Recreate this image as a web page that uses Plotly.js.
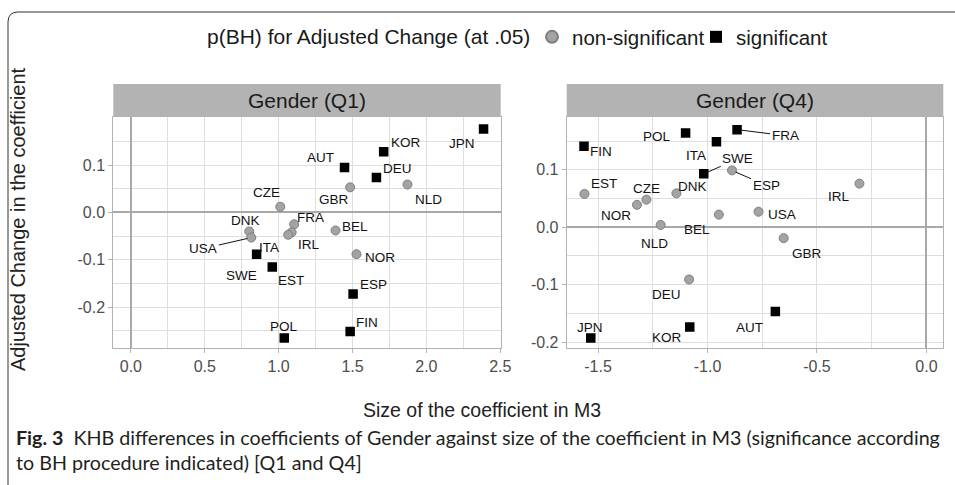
<!DOCTYPE html>
<html><head><meta charset="utf-8">
<script src="https://cdn.plot.ly/plotly-3.0.1.min.js"></script>
<style>html,body{margin:0;padding:0;background:#fff}#chart{width:955px;height:485px}</style>
</head><body><div id="chart"></div>
<script>
// ---- Data: Gender (Q1) ----
const countriesQ1 = ["JPN","KOR","AUT","DEU","NLD","GBR","CZE","FRA","BEL","IRL","ITA","DNK","USA","SWE","EST","NOR","ESP","FIN","POL"];
const sizeQ1   = [2.387,1.711,1.446,1.662,1.872,1.484,1.011,1.105,1.385,1.088,1.065,0.801,0.815,0.851,0.957,1.527,1.504,1.484,1.038];
const changeQ1 = [0.176,0.128,0.095,0.074,0.059,0.053,0.012,-0.025,-0.038,-0.042,-0.047,-0.040,-0.053,-0.088,-0.115,-0.088,-0.172,-0.251,-0.265];
const sigQ1    = [1,1,1,1,0,0,0,0,0,0,0,0,0,1,1,0,1,1,1];

// ---- Data: Gender (Q4) ----
const countriesQ4 = ["FIN","POL","FRA","ITA","SWE","ESP","EST","CZE","NOR","DNK","BEL","NLD","USA","IRL","GBR","DEU","AUT","KOR","JPN"];
const sizeQ4   = [-1.564,-1.100,-0.865,-0.959,-1.017,-0.888,-1.562,-1.279,-1.322,-1.142,-0.948,-1.214,-0.767,-0.306,-0.652,-1.084,-0.690,-1.081,-1.533];
const changeQ4 = [0.141,0.164,0.170,0.149,0.093,0.099,0.058,0.048,0.039,0.059,0.022,0.004,0.027,0.076,-0.019,-0.091,-0.147,-0.174,-0.193];
const sigQ4    = [1,1,1,1,1,0,0,0,0,0,0,0,0,0,0,0,1,1,1];

// ---- Tick labels ----
const xTickValsQ1 = [0,0.5,1,1.5,2,2.5];
const xTickTextQ1 = ["0.0","0.5","1.0","1.5","2.0","2.5"];
const yTickValsQ1 = [-0.2,-0.1,0,0.1];
const yTickTextQ1 = ["-0.2","-0.1","0.0","0.1"];
const xTickValsQ4 = [-1.5,-1.0,-0.5,0];
const xTickTextQ4 = ["-1.5","-1.0","-0.5","0.0"];
const yTickValsQ4 = [-0.2,-0.1,0,0.1];
const yTickTextQ4 = ["-0.2","-0.1","0.0","0.1"];

const panelTitles = ["Gender (Q1)","Gender (Q4)"];
const legendTitle = "p(BH) for Adjusted Change (at .05)";
const groupNames = ["non-significant","significant"];

// ---- Label placement (pixel offsets of the label from its point; third entry = leader line) ----
const labelPosQ1 = {JPN:[-22,14],KOR:[22,-9],AUT:[-24,-10],DEU:[21,-9],NLD:[21,15],GBR:[-16,12],CZE:[-14,-14],
  FRA:[16,-7],BEL:[19,-4],IRL:[17,12],ITA:[-19,13],DNK:[-4,-11],USA:[-48,11,1],SWE:[-15,21],EST:[19,14],
  NOR:[23,3],ESP:[20,-9],FIN:[17,-9],POL:[0,-12]};
const labelPosQ4 = {FIN:[17,5],POL:[-29,3],FRA:[48,6,1],ITA:[-20,14],SWE:[34,-15,1],ESP:[34,15,1],EST:[20,-10],
  CZE:[0,-11],NOR:[-21,11],DNK:[16,-7],BEL:[-22,15],NLD:[-6,19],USA:[23,3],IRL:[-20,13],GBR:[23,15],
  DEU:[-23,15],AUT:[-26,16],KOR:[-23,10],JPN:[-1,-11]};

const W = 955, H = 485;
const px = v => v / W, py = v => 1 - v / H;
const FONT = "'Liberation Sans', Arimo, Arial, sans-serif";
const CAPFONT = "Lato, sans-serif";

const markerStyles = [
  {symbol:"circle", size:9, color:"#A3A3A3", line:{color:"#7F7F7F", width:1}},
  {symbol:"square", size:9.5, color:"#000000", line:{width:0}}
];
const legendIds = ["legend","legend2"];

function makeTraces(sz, ch, sig, cn, xa, ya, showLegend) {
  return [0,1].map(g => {
    const idx = sig.map((s,i)=>s===g?i:-1).filter(i=>i>=0);
    return {
      type:"scatter", mode:"markers",
      x: idx.map(i=>sz[i]), y: idx.map(i=>ch[i]), text: idx.map(i=>cn[i]),
      xaxis: xa, yaxis: ya, name: groupNames[g], legendgroup: groupNames[g], legend: legendIds[g],
      showlegend: showLegend, marker: markerStyles[g], hoverinfo:"text+x+y"
    };
  });
}

const traces = [
  ...makeTraces(sizeQ1, changeQ1, sigQ1, countriesQ1, "x", "y", true),
  ...makeTraces(sizeQ4, changeQ4, sigQ4, countriesQ4, "x2", "y2", false)
];

function makeLabels(sz, ch, cn, pos, xr, yr) {
  return cn.map((c,i) => {
    const p = pos[c];
    const base = {x: sz[i], y: ch[i], xref: xr, yref: yr, text: c,
      font:{family:FONT, size:13.5, color:"#111111"}};
    if (p[2]) {
      return Object.assign(base, {showarrow:true, ax:p[0], ay:p[1], arrowhead:0, arrowwidth:1,
        arrowcolor:"#111111", standoff:4});
    }
    return Object.assign(base, {showarrow:false, xshift:p[0], yshift:-p[1]});
  });
}

const axisCommon = {
  showline:true, mirror:true, linecolor:"#B3B3B3", linewidth:1,
  ticks:"outside", ticklen:4, tickcolor:"#B3B3B3", tickwidth:1,
  tickfont:{family:FONT, size:16, color:"#4D4D4D"},
  showgrid:true, gridcolor:"#DEDEDE", gridwidth:1,
  zeroline:true, zerolinecolor:"#A9A9A9", zerolinewidth:2,
  tickmode:"array", fixedrange:true
};

const xDom1 = [px(113.3), px(500.7)], xDom2 = [px(566.7), px(943.3)];
const yDom = [py(347.5), py(117)];
const legendCommon = {orientation:"h", xanchor:"left", y:py(37), yanchor:"middle",
  font:{family:FONT, size:20.5, color:"#1A1A1A"}, bgcolor:"rgba(0,0,0,0)",
  itemsizing:"constant", itemwidth:30, borderwidth:0};

const layout = {
  width:W, height:H, margin:{l:0,r:0,t:0,b:0},
  paper_bgcolor:"#ffffff", plot_bgcolor:"#ffffff",
  font:{family:FONT},
  xaxis: Object.assign({}, axisCommon, {domain:xDom1, anchor:"y", range:[-0.119,2.503],
    tickvals:xTickValsQ1, ticktext:xTickTextQ1,
    minor:{tickmode:"linear", tick0:0, dtick:0.25, showgrid:true, gridcolor:"#DEDEDE", gridwidth:1, ticks:""}}),
  yaxis: Object.assign({}, axisCommon, {domain:yDom, anchor:"x", range:[-0.285,0.2015],
    tickvals:yTickValsQ1, ticktext:yTickTextQ1,
    minor:{tickmode:"linear", tick0:0, dtick:0.05, showgrid:true, gridcolor:"#DEDEDE", gridwidth:1, ticks:""}}),
  xaxis2: Object.assign({}, axisCommon, {domain:xDom2, anchor:"y2", range:[-1.643,0.077],
    tickvals:xTickValsQ4, ticktext:xTickTextQ4,
    minor:{tickmode:"linear", tick0:0, dtick:0.25, showgrid:true, gridcolor:"#DEDEDE", gridwidth:1, ticks:""}}),
  yaxis2: Object.assign({}, axisCommon, {domain:yDom, anchor:"x2", range:[-0.2095,0.192],
    tickvals:yTickValsQ4, ticktext:yTickTextQ4,
    minor:{tickmode:"linear", tick0:0, dtick:0.05, showgrid:true, gridcolor:"#DEDEDE", gridwidth:1, ticks:""}}),
  showlegend:true,
  legend: Object.assign({}, legendCommon, {x:px(532)}),
  legend2: Object.assign({}, legendCommon, {x:px(696)}),
  shapes:[
    {type:"rect", xref:"paper", yref:"paper", x0:xDom1[0], x1:xDom1[1], y0:py(117), y1:py(84),
      fillcolor:"#B3B3B3", line:{width:0}},
    {type:"rect", xref:"paper", yref:"paper", x0:xDom2[0], x1:xDom2[1], y0:py(117), y1:py(84),
      fillcolor:"#B3B3B3", line:{width:0}},
    {type:"path", xref:"paper", yref:"paper",
      path:`M ${px(8)},${py(490)} L ${px(8)},${py(22)} Q ${px(8)},${py(12)} ${px(18)},${py(12)} L ${px(960)},${py(12)}`,
      line:{color:"#333333", width:1}}
  ],
  annotations:[
    ...makeLabels(sizeQ1, changeQ1, countriesQ1, labelPosQ1, "x", "y"),
    ...makeLabels(sizeQ4, changeQ4, countriesQ4, labelPosQ4, "x2", "y2"),
    {xref:"paper", yref:"paper", x:px(205), y:py(37), text:legendTitle, showarrow:false,
      font:{family:FONT, size:21, color:"#1A1A1A"}, xanchor:"left", yanchor:"middle"},
    {xref:"paper", yref:"paper", x:(xDom1[0]+xDom1[1])/2, y:py(100.5), text:panelTitles[0], showarrow:false,
      font:{family:FONT, size:21, color:"#1A1A1A"}, xanchor:"center", yanchor:"middle"},
    {xref:"paper", yref:"paper", x:px(xDom2[0]*W/2+xDom2[1]*W/2), y:py(100.5), text:panelTitles[1], showarrow:false,
      font:{family:FONT, size:21, color:"#1A1A1A"}, xanchor:"center", yanchor:"middle"},
    {xref:"paper", yref:"paper", x:px(18), y:py(219), text:"Adjusted Change in the coefficient", textangle:-90,
      showarrow:false, font:{family:FONT, size:20, color:"#222222"}, xanchor:"center", yanchor:"middle"},
    {xref:"paper", yref:"paper", x:px(482), y:py(410), text:"Size of the coefficient in M3",
      showarrow:false, font:{family:FONT, size:19.5, color:"#222222"}, xanchor:"center", yanchor:"middle"},
    {xref:"paper", yref:"paper", x:px(14), y:py(437), xanchor:"left", yanchor:"middle", showarrow:false,
      text:"<b>Fig. 3</b>  KHB differences in coefficients of Gender against size of the coefficient in M3 (significance according",
      font:{family:CAPFONT, size:19.7, color:"#231F20"}},
    {xref:"paper", yref:"paper", x:px(14), y:py(462), xanchor:"left", yanchor:"middle", showarrow:false,
      text:"to BH procedure indicated) [Q1 and Q4]",
      font:{family:CAPFONT, size:19.7, color:"#231F20"}}
  ]
};

Plotly.newPlot("chart", traces, layout, {displayModeBar:false, staticPlot:true});
</script>
</body></html>
